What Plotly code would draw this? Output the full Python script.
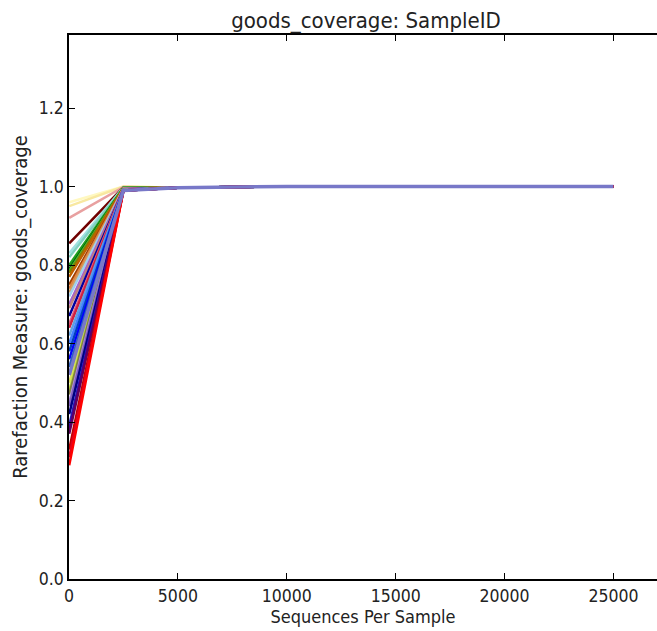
import plotly.graph_objects as go

# Rarefaction depths (sequences per sample)
depths = [10, 2500, 5000, 7500, 10000, 12500, 15000, 17500, 20000, 22500, 25000]

# goods_coverage at the first depth for each sample
start_values = [0.96, 0.95, 0.92, 0.855, 0.83, 0.82, 0.80, 0.79, 0.785, 0.78,
                0.77, 0.75, 0.74, 0.73, 0.72, 0.70, 0.69, 0.67, 0.65, 0.64,
                0.62, 0.60, 0.58, 0.56, 0.54, 0.50, 0.48, 0.47, 0.45,
                0.44, 0.42, 0.39, 0.38, 0.37, 0.33, 0.31, 0.29, 0.52]
# value at 2500 for each sample
mid_values = [1.0, 1.0, 0.999, 0.998, 0.998, 0.997, 0.997, 0.996, 0.996, 0.996,
              0.995, 0.995, 0.995, 0.994, 0.994, 0.994, 0.993, 0.993, 0.993, 0.992,
              0.992, 0.992, 0.992, 0.991, 0.991, 0.991, 0.991, 0.990, 0.990,
              0.990, 0.990, 0.990, 0.990, 0.990, 0.990, 0.990, 0.990, 0.990]
# shared saturation values at depths 5000..25000
tail_values = [0.997, 0.999, 1.0, 1.0, 1.0, 1.0, 1.0, 1.0, 1.0]

colors = ["#fff8c0", "#f8e8a0", "#e8a0a0", "#700000", "#a0e0e0", "#80d0c0",
          "#20a020", "#006000", "#40c040", "#808000", "#c06000", "#a04000",
          "#e08040", "#d0a060", "#a0d0f0", "#a060d0", "#c08080", "#0000a0",
          "#e06080", "#d02040", "#60a0e0", "#4080ff", "#0040c0", "#0000ff",
          "#3060c0", "#e0e060", "#c0e040", "#808040", "#b090e0",
          "#8060c0", "#000080", "#2020c0", "#4000a0", "#600060", "#c00000",
          "#e00020", "#ff0000", "#7878c8"]

fig = go.Figure()
n = len(start_values)
for i, (s, m, c) in enumerate(zip(start_values, mid_values, colors)):
    fig.add_trace(go.Scatter(
        x=depths, y=[s, m] + tail_values, mode="lines",
        line=dict(color=c, width=3.5 if i == n - 1 else 2.5),
        showlegend=False, hoverinfo="skip"))

cond = "DejaVu Sans Condensed, DejaVu Sans, sans-serif"
fig.update_layout(
    width=657, height=631,
    margin=dict(l=69, r=0, t=35, b=52),
    paper_bgcolor="white", plot_bgcolor="white",
    font=dict(family=cond, size=18, color="#222"),
    title=dict(text="goods_coverage: SampleID", x=366 / 657, xanchor="center",
               y=1 - 20 / 631, yanchor="middle", font=dict(size=22, family=cond, color="#222")),
    xaxis=dict(range=[0, 27000], tickvals=[0, 5000, 10000, 15000, 20000, 25000],
               ticktext=["0", "5000", "10000", "15000", "20000", "25000"],
               ticks="inside", ticklen=6, tickwidth=1, tickcolor="black",
               tickfont=dict(size=17.5, family=cond),
               showline=True, linecolor="black", linewidth=1.5, mirror="ticks",
               showgrid=False, zeroline=False,
               title=dict(text="Sequences Per Sample", standoff=2, font=dict(size=18, family=cond))),
    yaxis=dict(range=[0, 1.386], tickvals=[0, 0.2, 0.4, 0.6, 0.8, 1.0, 1.2],
               ticktext=["0.0", "0.2", "0.4", "0.6", "0.8", "1.0", "1.2"],
               ticks="inside", ticklen=6, tickwidth=1, tickcolor="black",
               tickfont=dict(size=17.5, family=cond),
               showline=True, linecolor="black", linewidth=1.5, mirror=False,
               showgrid=False, zeroline=False,
               title=dict(text="Rarefaction Measure: goods_coverage", standoff=6,
                          font=dict(size=20, family=cond))),
)

fig.write_html("out.html")
